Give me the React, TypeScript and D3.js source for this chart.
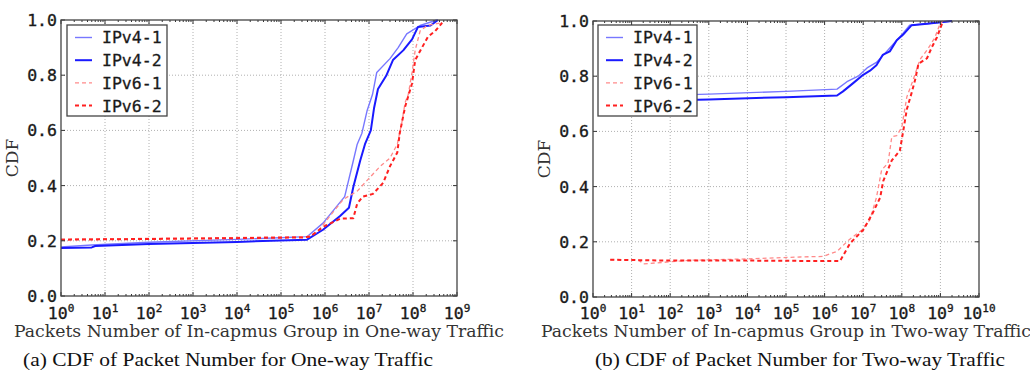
import React from 'react';
import * as d3 from 'd3';

// [packets, cdf]
const oneWayV4a: [number, number][] = [
  [1, 0.178], [5, 0.185], [100, 0.195], [1e4, 0.205], [3.9e5, 0.215], [9e5, 0.264],
  [2.8e6, 0.36], [4.4e6, 0.49], [5.4e6, 0.55], [6.9e6, 0.59], [9e6, 0.67], [1.2e7, 0.73],
  [1.5e7, 0.81], [3e7, 0.86], [4.6e7, 0.9], [7.2e7, 0.95], [1.45e8, 0.98], [3.5e8, 1.0],
];
const oneWayV4b: [number, number][] = [
  [1, 0.174], [5, 0.176], [6, 0.181], [100, 0.188], [1e4, 0.196], [3.9e5, 0.204],
  [9e5, 0.24], [2.2e6, 0.29], [3.5e6, 0.32], [4.4e6, 0.395], [6.3e6, 0.49], [8.1e6, 0.55],
  [1.1e7, 0.6], [1.3e7, 0.68], [1.6e7, 0.75], [2.5e7, 0.8], [3.5e7, 0.855], [6e7, 0.89],
  [9.5e7, 0.93], [1.3e8, 0.975], [2.5e8, 0.98], [3.7e8, 1.0],
];
const oneWayV6a: [number, number][] = [
  [1, 0.206], [1e3, 0.21], [3.9e5, 0.215], [6.6e5, 0.23], [1.3e6, 0.29], [2.6e6, 0.35],
  [5.4e6, 0.38], [1.05e7, 0.43], [1.8e7, 0.47], [3e7, 0.5], [4.4e7, 0.55], [5.6e7, 0.63],
  [6.6e7, 0.7], [7.8e7, 0.73], [9.5e7, 0.81], [1.12e8, 0.89], [1.45e8, 0.96], [2.1e8, 0.98],
  [4.6e8, 0.99],
];
const oneWayV6b: [number, number][] = [
  [1, 0.204], [1e3, 0.208], [3e5, 0.212], [4.6e5, 0.215], [9e5, 0.25], [2.2e6, 0.28],
  [4.4e6, 0.282], [5.4e6, 0.335], [7.2e6, 0.36], [1.23e7, 0.37], [2.1e7, 0.41], [3e7, 0.47],
  [4.4e7, 0.52], [5e7, 0.59], [6.6e7, 0.685], [9.5e7, 0.77], [1.12e8, 0.855], [1.6e8, 0.9],
  [2.2e8, 0.94], [3.2e8, 0.96], [4.6e8, 0.99],
];

const twoWayV4a: [number, number][] = [
  [2.8, 0.725], [1e3, 0.735], [1e5, 0.745], [2.1e6, 0.753], [3.8e6, 0.78], [7.4e6, 0.8],
  [1.26e7, 0.83], [2.2e7, 0.85], [3e7, 0.87], [4.4e7, 0.895], [7.4e7, 0.93], [1.07e8, 0.955],
  [1.6e8, 0.985], [4.5e8, 0.99], [2e9, 1.0],
];
const twoWayV4b: [number, number][] = [
  [2.8, 0.707], [1e3, 0.716], [1e5, 0.724], [2.1e6, 0.73], [3e6, 0.745], [5.5e6, 0.775],
  [1e7, 0.805], [1.5e7, 0.82], [2.2e7, 0.84], [3.2e7, 0.877], [4.9e7, 0.89], [7.4e7, 0.93],
  [1.07e8, 0.95], [1.8e8, 0.985], [4.5e8, 0.99], [2e9, 1.0],
];
const twoWayV6a: [number, number][] = [
  [2.8, 0.135], [15, 0.135], [20, 0.12], [60, 0.125], [300, 0.133], [1e4, 0.138],
  [2.3e5, 0.145], [9e5, 0.147], [2.1e6, 0.165], [4.1e6, 0.205], [9.3e6, 0.243], [1.5e7, 0.28],
  [2.2e7, 0.36], [3e7, 0.46], [4.4e7, 0.485], [5.5e7, 0.58], [7.4e7, 0.585], [1e8, 0.615],
  [1.35e8, 0.725], [1.95e8, 0.785], [2.95e8, 0.86], [4.8e8, 0.9], [7.2e8, 0.94],
  [9.8e8, 0.99], [1.17e9, 1.0],
];
const twoWayV6b: [number, number][] = [
  [2.8, 0.135], [100, 0.132], [1e4, 0.132], [2.5e6, 0.13], [4.6e6, 0.195], [1e7, 0.243],
  [1.7e7, 0.3], [2.75e7, 0.36], [3.3e7, 0.42], [5.5e7, 0.495], [8.9e7, 0.53], [1.1e8, 0.605],
  [1.35e8, 0.68], [1.8e8, 0.74], [2.2e8, 0.785], [2.7e8, 0.845], [4.5e8, 0.865], [6e8, 0.905],
  [8.1e8, 0.94], [1.1e9, 0.99], [1.17e9, 1.0],
];

const seriesNames = ['IPv4-1', 'IPv4-2', 'IPv6-1', 'IPv6-2'];
const yTicks = [0, 0.2, 0.4, 0.6, 0.8, 1.0];

const styles = [
  { color: '#7777ff', width: 1.4, dash: null },
  { color: '#1a1aff', width: 2, dash: null },
  { color: '#ff8a8a', width: 1.3, dash: '4,3' },
  { color: '#ff2020', width: 2, dash: '4,3' },
];

const mono = "'DejaVu Sans Mono', monospace";
const serif = "'DejaVu Serif', 'Liberation Serif', serif";

type PanelProps = {
  left: number; right: number; top: number; bottom: number;
  maxExp: number;
  data: [number, number][][];
  xLabel: string;
  caption: string;
  captionX: number;
  legendX: number;
  legendW: number;
};

function Panel(p: PanelProps) {
  const x = d3.scaleLog().domain([1, 10 ** p.maxExp]).range([p.left, p.right]);
  const y = d3.scaleLinear().domain([0, 1]).range([p.bottom, p.top]);
  const line = d3.line<[number, number]>().x(d => x(d[0])).y(d => y(d[1]));
  const majors = d3.range(0, p.maxExp + 1);
  const minors: number[] = [];
  majors.slice(0, -1).forEach(e => { for (let k = 2; k < 10; k++) minors.push(k * 10 ** e); });
  const cx = (p.left + p.right) / 2;
  const cy = (p.top + p.bottom) / 2;
  const lx = p.legendX, ly = 25;

  return (
    <g>
      {/* grid */}
      {majors.slice(1, -1).map(e => (
        <line key={'gx' + e} x1={x(10 ** e)} x2={x(10 ** e)} y1={p.top} y2={p.bottom}
          stroke="#b0b0b0" strokeDasharray="1,2" />
      ))}
      {yTicks.slice(1, -1).map(t => (
        <line key={'gy' + t} x1={p.left} x2={p.right} y1={y(t)} y2={y(t)}
          stroke="#b0b0b0" strokeDasharray="1,2" />
      ))}
      {/* curves */}
      {p.data.map((d, i) => (
        <path key={'s' + i} d={line(d) || ''} fill="none" stroke={styles[i].color}
          strokeWidth={styles[i].width} strokeDasharray={styles[i].dash || undefined}
          strokeLinejoin="round" />
      ))}
      {/* ticks */}
      {majors.map(e => (
        <g key={'tx' + e}>
          <line x1={x(10 ** e)} x2={x(10 ** e)} y1={p.bottom} y2={p.bottom - 4} stroke="#333" />
          <line x1={x(10 ** e)} x2={x(10 ** e)} y1={p.top} y2={p.top + 4} stroke="#333" />
          <text x={x(10 ** e)} y={319} textAnchor="middle" fontFamily={mono} fontSize={16.5}
            fill="#1a1a1a" stroke="#1a1a1a" strokeWidth={0.35}>
            10<tspan fontSize={11} dy={-7}>{e}</tspan>
          </text>
        </g>
      ))}
      {minors.map(v => (
        <g key={'mx' + v}>
          <line x1={x(v)} x2={x(v)} y1={p.bottom} y2={p.bottom - 2} stroke="#333" />
          <line x1={x(v)} x2={x(v)} y1={p.top} y2={p.top + 2} stroke="#333" />
        </g>
      ))}
      {yTicks.map(t => (
        <g key={'ty' + t}>
          <line x1={p.left} x2={p.left + 4} y1={y(t)} y2={y(t)} stroke="#333" />
          <line x1={p.right} x2={p.right - 4} y1={y(t)} y2={y(t)} stroke="#333" />
          <text x={p.left - 4} y={y(t)} dy="0.36em" textAnchor="end" fontFamily={mono}
            fontSize={16.5} fill="#1a1a1a" stroke="#1a1a1a" strokeWidth={0.35}>{t.toFixed(1)}</text>
        </g>
      ))}
      {/* frame */}
      <rect x={p.left} y={p.top} width={p.right - p.left} height={p.bottom - p.top}
        fill="none" stroke="#444" strokeWidth={1.3} />
      {/* legend */}
      <rect x={lx} y={ly} width={p.legendW} height={91} fill="#fff" stroke="#444" strokeWidth={1.3} />
      {seriesNames.map((n, i) => (
        <g key={'lg' + n}>
          <line x1={lx + 8} x2={lx + 25} y1={ly + 12.5 + i * 22.7} y2={ly + 12.5 + i * 22.7}
            stroke={styles[i].color} strokeWidth={styles[i].width}
            strokeDasharray={styles[i].dash || undefined} />
          <text x={lx + 35} y={ly + 12.5 + i * 22.7} dy="0.36em" fontFamily={mono}
            fontSize={16.5} fill="#1a1a1a" stroke="#1a1a1a" strokeWidth={0.3}>{n}</text>
        </g>
      ))}
      {/* labels */}
      <text x={cx} y={337} textAnchor="middle" fontFamily={serif} fontSize={16.5} fill="#333"
        textLength={490} lengthAdjust="spacingAndGlyphs">{p.xLabel}</text>
      <text transform={`translate(${p.left - 43},${cy}) rotate(-90)`} textAnchor="middle"
        fontFamily={serif} fontSize={17} fill="#333">CDF</text>
      <text x={p.captionX} y={366} textAnchor="middle" fontFamily="'Liberation Serif', serif"
        fontSize={19} fill="#111" textLength={410} lengthAdjust="spacingAndGlyphs">{p.caption}</text>
    </g>
  );
}

export default function App() {
  return (
    <svg width={1030} height={376} style={{ position: 'absolute', left: 0, top: 0, background: '#fff' }}>
      <Panel left={61} right={457} top={20} bottom={296} maxExp={9}
        data={[oneWayV4a, oneWayV4b, oneWayV6a, oneWayV6b]}
        xLabel="Packets Number of In-capmus Group in One-way Traffic"
        caption="(a) CDF of Packet Number for One-way Traffic" captionX={228}
        legendX={67} legendW={100} />
      <Panel left={593} right={979} top={21} bottom={297} maxExp={10}
        data={[twoWayV4a, twoWayV4b, twoWayV6a, twoWayV6b]}
        xLabel="Packets Number of In-capmus Group in Two-way Traffic"
        caption="(b) CDF of Packet Number for Two-way Traffic" captionX={800}
        legendX={598} legendW={99} />
    </svg>
  );
}
